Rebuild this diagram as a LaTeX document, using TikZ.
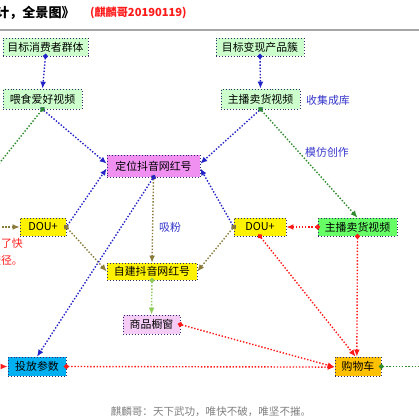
\documentclass[tikz,border=0pt]{standalone}
\usepackage{fontspec}
\newfontfamily\cjk{Noto Sans CJK SC}
\usepackage{tikz}
\usetikzlibrary{arrows.meta}
\definecolor{boxline}{HTML}{2B2B6E}
\definecolor{paleGreen}{HTML}{CCFFCC}
\definecolor{pinkViolet}{HTML}{F090F0}
\definecolor{paleViolet}{HTML}{F5CCF5}
\definecolor{brightGreen}{HTML}{66FF66}
\definecolor{skyBlue}{HTML}{00B0F0}
\definecolor{amber}{HTML}{FFC000}
\definecolor{linkBlue}{HTML}{2323C8}
\definecolor{labelBlue}{HTML}{3636CC}
\definecolor{linkGreen}{HTML}{2E8B2E}
\definecolor{linkBrown}{HTML}{8B7B3A}
\definecolor{linkLime}{HTML}{8FCB5A}
\definecolor{linkRed}{HTML}{FF1A1A}

\begin{document}
\begin{tikzpicture}[
		x=0.03cm, y=-0.03cm,
		box/.style={draw=boxline, dotted, line width=0.5pt, inner sep=1pt,
			font=\cjk\fontsize{9.3}{11}\selectfont, text=black},
		link/.style={line width=1.2pt, dash pattern=on 1.2pt off 1.5pt,
			shorten <=-2.1pt, {Circle[length=4.2pt]}-{Latex[length=6pt,width=5pt]}},
		tolink/.style={line width=1.2pt, dash pattern=on 1.2pt off 1.5pt,
			-{Latex[length=6pt,width=5pt]}},
		lbl/.style={font=\cjk\fontsize{9.3}{11}\selectfont, text=labelBlue}
	]
	\path[fill=white] (0,0) rectangle (419,419);
	\useasboundingbox (0,0) rectangle (419,419);
	
	% title
	\node[anchor=east, font=\cjk\bfseries\fontsize{11.2}{13}\selectfont]
		(ttl) at (79,13) {设计，全景图》};
	\node[anchor=west, text=linkRed, font=\cjk\bfseries\fontsize{9.5}{11}\selectfont]
		(date) at (86,13) {(麒麟哥20190119)};
	\draw[gray!70, line width=1.3pt] (0,30) -- (419,30);
	
	% nodes
	\node[box, fill=paleGreen, minimum width=2.55cm, minimum height=0.54cm]
		(tc) at (45.5,47) {目标消费者群体};
	\node[box, fill=paleGreen, minimum width=2.64cm, minimum height=0.54cm]
		(tp) at (260,47) {目标变现产品簇};
	\node[box, fill=paleGreen, minimum width=2.37cm, minimum height=0.6cm]
		(wf) at (42.5,99) {喂食爱好视频};
	\node[box, fill=paleGreen, minimum width=2.37cm, minimum height=0.6cm]
		(zb) at (260.5,99) {主播卖货视频};
	\node[box, fill=pinkViolet, minimum width=2.79cm, minimum height=0.66cm]
		(dw) at (153.5,166) {定位抖音网红号};
	\node[box, fill=yellow, minimum width=1.38cm, minimum height=0.54cm]
		(dl) at (43,227) {DOU+};
	\node[box, fill=yellow, minimum width=1.56cm, minimum height=0.54cm]
		(dr) at (260,227) {DOU+};
	\node[box, fill=brightGreen, minimum width=2.37cm, minimum height=0.54cm]
		(zg) at (357.5,227) {主播卖货视频};
	\node[box, fill=yellow, minimum width=2.7cm, minimum height=0.51cm]
		(zj) at (152,271.5) {自建抖音网红号};
	\node[box, fill=paleViolet, minimum width=1.71cm, minimum height=0.57cm]
		(sc) at (151.5,324.5) {商品橱窗};
	\node[box, fill=skyBlue, minimum width=1.74cm, minimum height=0.57cm]
		(tf) at (37,366.5) {投放参数};
	\node[box, fill=amber, minimum width=1.38cm, minimum height=0.57cm]
		(gw) at (358,366.5) {购物车};
	
	\node[lbl] (sj) at (328,100) {收集成库};
	\node[lbl] (mf) at (327,152) {模仿创作};
	\node[lbl] (xf) at (170,227) {吸粉};
	\node[anchor=north east, align=right, text=linkRed,
		font=\cjk\fontsize{9.3}{15}\selectfont]
		(note) at (27,234) {为了快\\捷径。};
	\node[text=gray, font=\cjk\fontsize{9}{11}\selectfont]
		(foot) at (211,412) {麒麟哥：天下武功，唯快不破，唯坚不摧。};
	
	% ends outside the picture
	\coordinate (offWf) at (-30,200);
	\coordinate (offDl) at (-20,227);
	\coordinate (offTf) at (-20,366.5);
	\coordinate (offGw) at (440,366.5);
	
	% connectors
	\draw[link, linkBlue] (tc.south) -- (wf.north);
	\draw[link, linkBlue] (tp.south) -- (zb.north);
	\draw[link, linkBlue] (wf.south) -- ([yshift=2pt]dw.west);
	\draw[link, linkGreen] (wf.south) -- (offWf);
	\draw[link, linkBlue] (zb.south) -- ([yshift=2pt]dw.east);
	\draw[link, linkGreen] (zb.south) -- (zg.north);
	
	\draw[link, linkBlue] (dl.east) -- ([yshift=-2pt]dw.west);
	\draw[link, linkBrown] (dl.east) -- (zj.west);
	\draw[link, linkBlue] (dr.west) -- ([yshift=-2pt]dw.east);
	\draw[link, linkBrown] (dr.west) -- (zj.east);
	\draw[tolink, linkBrown] (offDl) -- (dl.west);
	
	\draw[link, linkBrown] (dw.south) -- (zj.north);
	\draw[link, linkBlue] (dw.south) -- (tf.north);
	\draw[link, linkLime] (zj.south) -- (sc.north);
	
	\draw[link, linkRed] (zg.west) -- (dr.east);
	\draw[link, linkRed] (zg.south) -- ([xshift=-1pt]gw.north);
	\draw[link, linkRed] (dr.south) -- ([xshift=-2pt]gw.north);
	\draw[link, linkRed] (sc.east) -- ([yshift=-0.5pt]gw.west);
	\draw[link, linkRed] (tf.east) -- ([yshift=-0.5pt]gw.west);
	\draw[tolink, linkRed] (offTf) -- (tf.west);
	\draw[link, linkGreen] (gw.east) -- (offGw);
\end{tikzpicture}
\end{document}
